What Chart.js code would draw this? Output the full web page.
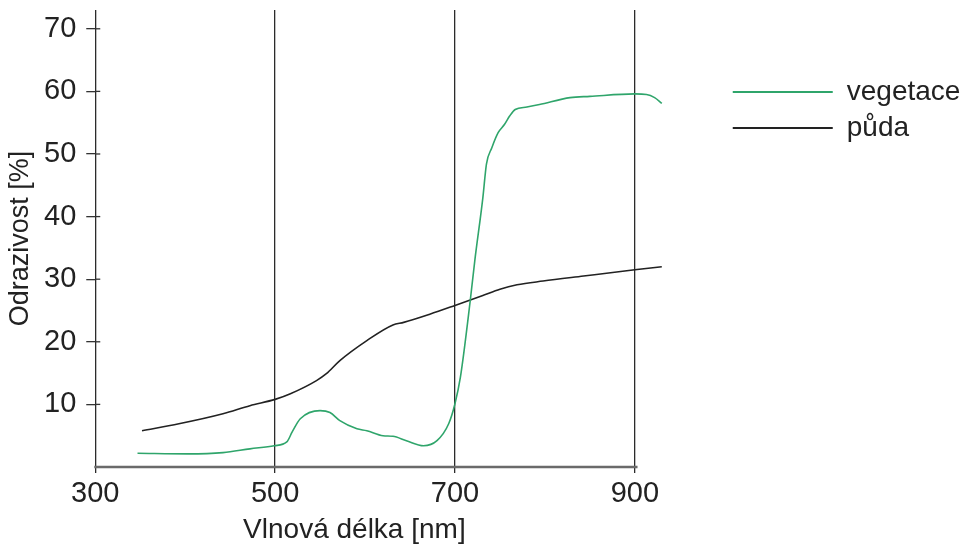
<!DOCTYPE html>
<html>
<head>
<meta charset="utf-8">
<script src="https://cdn.jsdelivr.net/npm/chart.js@4.4.1/dist/chart.umd.min.js"></script>
<style>
  html, body { margin: 0; padding: 0; background: #fff; }
  #wrap { width: 969px; height: 544px; position: relative; }
</style>
</head>
<body>
<div id="wrap"><canvas id="spectra"></canvas></div>
<script>
// Spektrální křivky odrazivosti
const vegNm  = [347, 403, 442, 472, 499, 513, 519, 528, 550, 561, 572, 591, 602, 620, 631, 646, 665, 680, 693, 700, 706, 717, 722, 731, 735, 741, 748, 755, 761, 767, 780, 794, 828, 850, 900, 913, 922, 930];
const vegVal = [2.2, 2.1, 2.3, 2.9, 3.4, 4.0, 5.6, 7.7, 9.0, 8.7, 7.4, 6.1, 5.8, 5.0, 4.9, 4.2, 3.4, 4.2, 6.9, 10.1, 14.3, 26.6, 32.9, 43.0, 48.4, 51.0, 53.4, 54.7, 56.1, 57.1, 57.5, 57.9, 59.0, 59.2, 59.6, 59.5, 59.0, 58.1];

const soilNm  = [352, 393, 442, 472, 500, 517, 546, 557, 572, 602, 631, 643, 672, 700, 731, 750, 769, 798, 843, 900, 930];
const soilVal = [5.8, 6.9, 8.5, 9.8, 10.8, 11.7, 13.8, 14.9, 17.0, 20.2, 22.7, 23.1, 24.4, 25.8, 27.4, 28.4, 29.1, 29.7, 30.5, 31.5, 32.0];

const xTicks = [300, 500, 700, 900];
const yTicks = [10, 20, 30, 40, 50, 60, 70];
const xAxisEnd = 903;
const xTitle = 'Vlnová délka [nm]';

const GREEN = '#2fa56b';
const DARK  = '#222222';

Chart.defaults.font.family = '"Liberation Sans", Arial, sans-serif';
Chart.defaults.font.lineHeight = 1;
Chart.defaults.color = '#222';

const toPoints = (xs, ys) => xs.map((x, i) => ({ x, y: ys[i] }));

// osa x (jen do 903 nm), vnitřní část značek na ose y, popis osy x pod osou
const axisPlugin = {
  id: 'axisLines',
  afterDraw(chart) {
    const { ctx, scales: { x, y } } = chart;
    const y0 = y.getPixelForValue(0);
    const x0 = x.getPixelForValue(xTicks[0]);
    const x1 = x.getPixelForValue(xAxisEnd);
    ctx.save();
    ctx.strokeStyle = '#6a6a6a';
    ctx.lineWidth = 2.4;
    ctx.beginPath();
    ctx.moveTo(x0 - 1, y0);
    ctx.lineTo(x1, y0);
    ctx.stroke();
    ctx.strokeStyle = '#333';
    ctx.lineWidth = 1.3;
    yTicks.forEach(v => {
      const py = y.getPixelForValue(v);
      ctx.beginPath();
      ctx.moveTo(x0, py);
      ctx.lineTo(x0 + 5, py);
      ctx.stroke();
    });
    ctx.fillStyle = '#222';
    ctx.font = '28px "Liberation Sans", Arial, sans-serif';
    ctx.textAlign = 'center';
    ctx.textBaseline = 'middle';
    ctx.fillText(xTitle, (x0 + x1) / 2 - 12, chart.height - 14);
    ctx.restore();
  }
};

new Chart(document.getElementById('spectra'), {
  type: 'line',
  data: {
    datasets: [
      {
        label: 'vegetace',
        data: toPoints(vegNm, vegVal),
        borderColor: GREEN,
        backgroundColor: GREEN,
        borderWidth: 1.6,
        pointRadius: 0,
        cubicInterpolationMode: 'monotone',
      },
      {
        label: 'půda',
        data: toPoints(soilNm, soilVal),
        borderColor: DARK,
        backgroundColor: DARK,
        borderWidth: 1.6,
        pointRadius: 0,
        cubicInterpolationMode: 'monotone',
      },
    ],
  },
  options: {
    responsive: true,
    maintainAspectRatio: false,
    animation: false,
    layout: { padding: { left: 7, top: 0, right: 5, bottom: 30 } },
    plugins: {
      tooltip: { enabled: false },
      legend: {
        position: 'right',
        align: 'start',
        title: { display: true, text: ' ', font: { size: 12 }, padding: { top: 58, bottom: 0 } },
        labels: {
          boxWidth: 100,
          boxHeight: 2,
          padding: 8,
          font: { size: 28 },
          color: '#222',
          generateLabels: chart => chart.data.datasets.map((ds, i) => ({
            text: ds.label,
            fillStyle: ds.borderColor,
            strokeStyle: ds.borderColor,
            lineWidth: 0,
            hidden: false,
            datasetIndex: i,
          })),
        },
      },
    },
    scales: {
      x: {
        type: 'linear',
        min: 300,
        max: 1000,
        afterBuildTicks: s => { s.ticks = xTicks.map(v => ({ value: v })); },
        border: { display: false },
        grid: { color: '#2b2b2b', lineWidth: 1.3, tickLength: 6 },
        ticks: { font: { size: 29 }, color: '#222', padding: 6, maxRotation: 0, autoSkip: false },
      },
      y: {
        min: 0,
        max: 73,
        afterBuildTicks: s => { s.ticks = yTicks.map(v => ({ value: v })); },
        border: { display: false },
        grid: { drawOnChartArea: false, color: '#333', lineWidth: 1.3, tickLength: 9 },
        ticks: { font: { size: 29, lineHeight: 0 }, color: '#222', padding: 10 },
        title: { display: true, text: 'Odrazivost [%]', font: { size: 27 }, color: '#222', padding: { top: 0, bottom: 0 } },
      },
    },
  },
  plugins: [axisPlugin],
});
</script>
</body>
</html>
